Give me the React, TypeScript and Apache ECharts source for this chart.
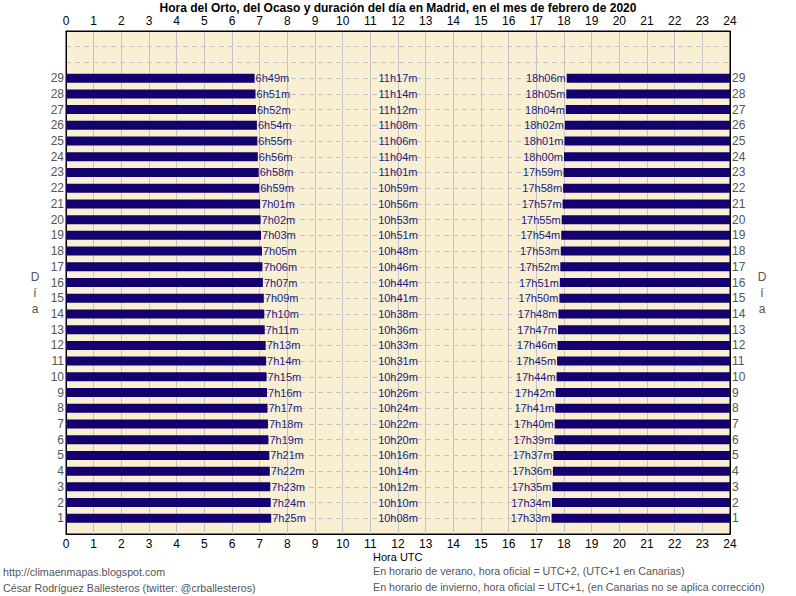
import React, { useEffect, useRef } from "react";
import * as echarts from "echarts";

const days = [1,2,3,4,5,6,7,8,9,10,11,12,13,14,15,16,17,18,19,20,21,22,23,24,25,26,27,28,29];
const sunrise = ["7h25m","7h24m","7h23m","7h22m","7h21m","7h19m","7h18m","7h17m","7h16m","7h15m","7h14m","7h13m","7h11m","7h10m","7h09m","7h07m","7h06m","7h05m","7h03m","7h02m","7h01m","6h59m","6h58m","6h56m","6h55m","6h54m","6h52m","6h51m","6h49m"];
const dayLength = ["10h08m","10h10m","10h12m","10h14m","10h16m","10h20m","10h22m","10h24m","10h26m","10h29m","10h31m","10h33m","10h36m","10h38m","10h41m","10h44m","10h46m","10h48m","10h51m","10h53m","10h56m","10h59m","11h01m","11h04m","11h06m","11h08m","11h12m","11h14m","11h17m"];
const sunset = ["17h33m","17h34m","17h35m","17h36m","17h37m","17h39m","17h40m","17h41m","17h42m","17h44m","17h45m","17h46m","17h47m","17h48m","17h50m","17h51m","17h52m","17h53m","17h54m","17h55m","17h57m","17h58m","17h59m","18h00m","18h01m","18h02m","18h04m","18h05m","18h06m"];
const hourTicks = { min: 0, max: 24, interval: 1 };
const dayAxis = { min: 0, max: 32, interval: 1 };

const toHours = (s: string) => {
  const m = s.match(/(\d+)h(\d+)m/);
  return m ? Number(m[1]) + Number(m[2]) / 60 : 0;
};

const FONT = "Liberation Sans, Arial, sans-serif";
const BAR = "#14006e";
const LBL = "#1a1a80";
const GRAY = "#555555";

export default function App() {
  const ref = useRef<HTMLDivElement>(null);
  useEffect(() => {
    if (!ref.current) return;
    const chart = echarts.init(ref.current, null, { renderer: "svg" });
    const riseData = days.map((d, i) => [0, toHours(sunrise[i]), d, sunrise[i]]);
    const setData = days.map((d, i) => [toHours(sunset[i]), 24, d, sunset[i]]);
    const lenData = days.map((d, i) => [12, d, dayLength[i]]);
    const barH = 9;
    const xCommon = {
      type: "value",
      min: hourTicks.min,
      max: hourTicks.max,
      interval: hourTicks.interval,
      axisLine: { show: true, onZero: false, lineStyle: { color: "#000", width: 1 } },
      axisTick: { show: false },
      axisLabel: { color: "#000", fontSize: 12, lineHeight: 12, fontFamily: FONT, margin: 4 },
    };
    const yCommon = {
      type: "value",
      min: dayAxis.min,
      max: dayAxis.max,
      interval: dayAxis.interval,
      axisLine: { show: true, onZero: false, lineStyle: { color: "#000", width: 1 } },
      axisTick: { show: false },
      axisLabel: {
        color: GRAY,
        fontSize: 12,
        lineHeight: 12,
        fontFamily: FONT,
        margin: 2,
        formatter: (v: number) => (v >= 1 && v <= 29 ? String(v) : ""),
      },
    };
    chart.setOption({
      animation: false,
      backgroundColor: "#ffffff",
      grid: {
        left: 66,
        right: 66,
        top: 31,
        bottom: 62,
        show: true,
        backgroundColor: "#f9f0d4",
        borderColor: "#000",
        borderWidth: 1,
      },
      xAxis: [
        {
          ...xCommon,
          position: "bottom",
          splitLine: { show: true, lineStyle: { color: "#c4c4c4", width: 1, type: "solid" } },
        },
        { ...xCommon, position: "top", splitLine: { show: false } },
      ],
      yAxis: [
        {
          ...yCommon,
          position: "left",
          splitLine: { show: true, lineStyle: { color: "#c4c4c4", width: 1, type: [5, 4] } },
        },
        { ...yCommon, position: "right", splitLine: { show: false } },
      ],
      series: [
        {
          type: "custom",
          name: "orto",
          xAxisIndex: 0,
          yAxisIndex: 0,
          encode: { x: [0, 1], y: 2 },
          data: riseData,
          renderItem: (params: any, api: any) => {
            const d = api.value(2);
            const p0 = api.coord([api.value(0), d]);
            const p1 = api.coord([api.value(1), d]);
            return {
              type: "group",
              children: [
                { type: "rect", shape: { x: p0[0], y: p0[1] - barH / 2, width: p1[0] - p0[0], height: barH }, style: { fill: BAR } },
                {
                  type: "text",
                  x: p1[0] + 1,
                  y: p1[1],
                  style: { text: riseData[params.dataIndex][3], fill: LBL, font: `11px ${FONT}`, align: "left", verticalAlign: "middle" },
                },
              ],
            };
          },
        },
        {
          type: "custom",
          name: "ocaso",
          xAxisIndex: 0,
          yAxisIndex: 0,
          encode: { x: [0, 1], y: 2 },
          data: setData,
          renderItem: (params: any, api: any) => {
            const d = api.value(2);
            const p0 = api.coord([api.value(0), d]);
            const p1 = api.coord([api.value(1), d]);
            return {
              type: "group",
              children: [
                { type: "rect", shape: { x: p0[0], y: p0[1] - barH / 2, width: p1[0] - p0[0], height: barH }, style: { fill: BAR } },
                {
                  type: "text",
                  x: p0[0] - 1,
                  y: p0[1],
                  style: { text: setData[params.dataIndex][3], fill: LBL, font: `11px ${FONT}`, align: "right", verticalAlign: "middle" },
                },
              ],
            };
          },
        },
        {
          type: "custom",
          name: "duracion",
          xAxisIndex: 0,
          yAxisIndex: 0,
          encode: { x: 0, y: 1 },
          data: lenData,
          renderItem: (params: any, api: any) => {
            const p = api.coord([api.value(0), api.value(1)]);
            return {
              type: "text",
              x: p[0],
              y: p[1],
              style: { text: lenData[params.dataIndex][2], fill: LBL, font: `11px ${FONT}`, align: "center", verticalAlign: "middle" },
            };
          },
        },
      ],
      graphic: [
        {
          type: "text",
          x: 398,
          y: 8,
          style: {
            text: "Hora del Orto, del Ocaso y duración del día en Madrid, en el mes de febrero de 2020",
            font: `bold 12px ${FONT}`,
            lineHeight: 12,
            fill: "#000",
            align: "center",
            verticalAlign: "middle",
          },
        },
        {
          type: "text",
          x: 35,
          y: 293,
          style: { text: "D\ní\na", font: `12px ${FONT}`, fill: GRAY, align: "center", verticalAlign: "middle", lineHeight: 16 },
        },
        {
          type: "text",
          x: 762,
          y: 293,
          style: { text: "D\ní\na", font: `12px ${FONT}`, fill: GRAY, align: "center", verticalAlign: "middle", lineHeight: 16 },
        },
        {
          type: "text",
          x: 373,
          y: 557,
          style: { text: "Hora UTC", font: `11px ${FONT}`, lineHeight: 11, fill: "#000", align: "left", verticalAlign: "middle" },
        },
        {
          type: "text",
          x: 373,
          y: 571,
          style: { text: "En horario de verano, hora oficial = UTC+2, (UTC+1 en Canarias)", font: `10.7px ${FONT}`, lineHeight: 11, fill: GRAY, align: "left", verticalAlign: "middle" },
        },
        {
          type: "text",
          x: 373,
          y: 587,
          style: { text: "En horario de invierno, hora oficial = UTC+1, (en Canarias no se aplica corrección)", font: `10.7px ${FONT}`, lineHeight: 11, fill: GRAY, align: "left", verticalAlign: "middle" },
        },
        {
          type: "text",
          x: 3,
          y: 572,
          style: { text: "http://climaenmapas.blogspot.com", font: `10.7px ${FONT}`, lineHeight: 11, fill: GRAY, align: "left", verticalAlign: "middle" },
        },
        {
          type: "text",
          x: 3,
          y: 588,
          style: { text: "César Rodríguez Ballesteros (twitter: @crballesteros)", font: `10.7px ${FONT}`, lineHeight: 11, fill: GRAY, align: "left", verticalAlign: "middle" },
        },
      ],
    });
    return () => chart.dispose();
  }, []);
  return <div ref={ref} style={{ position: "fixed", left: 0, top: 0, width: 796, height: 596 }} />;
}
